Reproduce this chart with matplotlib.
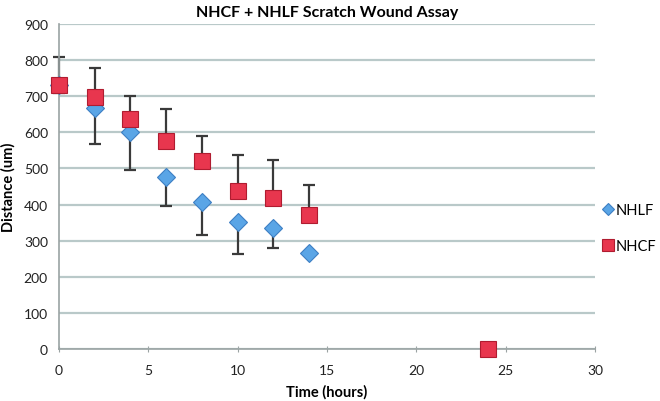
import numpy as np
import matplotlib
matplotlib.use("Agg")
import matplotlib.pyplot as plt

plt.rcParams['font.family'] = ['Lato', 'DejaVu Sans']

# data
t_nhlf = [0, 2, 4, 6, 8, 10, 12, 14]
nhlf = [730, 667, 601, 476, 407, 351, 335, 266]
nhlf_err = [20, 99, 105, 80, 91, 88, 55, 0]

t_nhcf = [0, 2, 4, 6, 8, 10, 12, 14, 24]
nhcf = [730, 698, 637, 576, 521, 437, 417, 372, 0]
nhcf_err = [79, 79, 64, 89, 69, 100, 107, 83, 0]

fig = plt.figure(figsize=(6.6, 4.02), dpi=100)
ax = fig.add_axes([0.0894, 0.1294, 0.8121, 0.8084])

# NHLF: error bars below only
eb1 = ax.errorbar(t_nhlf, nhlf, yerr=[nhlf_err, [0] * len(nhlf_err)], fmt='none',
                  ecolor='#3a3a3a', elinewidth=1.6, capsize=4, capthick=1.6, zorder=2)
ax.plot(t_nhlf, nhlf, linestyle='none', marker='D', markersize=9,
        markerfacecolor='#5aa5e6', markeredgecolor='#3d7fc4', markeredgewidth=0.8,
        label='NHLF', zorder=3, clip_on=False)

# NHCF: error bars above only
eb2 = ax.errorbar(t_nhcf, nhcf, yerr=[[0] * len(nhcf_err), nhcf_err], fmt='none',
                  ecolor='#3a3a3a', elinewidth=1.6, capsize=4, capthick=1.6, zorder=2)
ax.plot(t_nhcf, nhcf, linestyle='none', marker='s', markersize=12,
        markerfacecolor='#e8364e', markeredgecolor='#b01c30', markeredgewidth=0.8,
        label='NHCF', zorder=4, clip_on=False)

for eb in (eb1, eb2):
    for art in eb.lines[1] + eb.lines[2]:
        art.set_clip_on(False)

ax.set_xlim(0, 30)
ax.set_ylim(0, 900)
ax.set_xticks([0, 5, 10, 15, 20, 25, 30])
ax.set_yticks(np.arange(0, 901, 100))
ax.yaxis.grid(True, color='#b9c9c9', linewidth=1.6)
ax.set_axisbelow(True)
for s in ['top', 'right']:
    ax.spines[s].set_visible(False)
for s in ['left', 'bottom']:
    ax.spines[s].set_color('#9aa3a3')
    ax.spines[s].set_linewidth(1.2)
ax.tick_params(axis='x', direction='inout', length=5, color='#9aa3a3',
               labelsize=10, pad=8, labelcolor='#222222')
ax.tick_params(axis='y', length=0, labelsize=10, pad=8, labelcolor='#222222')

ax.set_title('NHCF + NHLF Scratch Wound Assay', fontsize=11.5, fontweight='bold', pad=6)
ax.set_xlabel('Time (hours)', fontsize=10.5, fontweight='bold', labelpad=6)
ax.set_ylabel('Distance (um)', fontsize=10.5, fontweight='bold', labelpad=6)

ax.legend(loc='center left', bbox_to_anchor=(1.015, 0.372), frameon=False,
          fontsize=10.5, handletextpad=0.15, labelspacing=1.5, markerscale=0.7,
          handlelength=0.7, borderaxespad=0, borderpad=0)

fig.savefig('out.png', dpi=100)
